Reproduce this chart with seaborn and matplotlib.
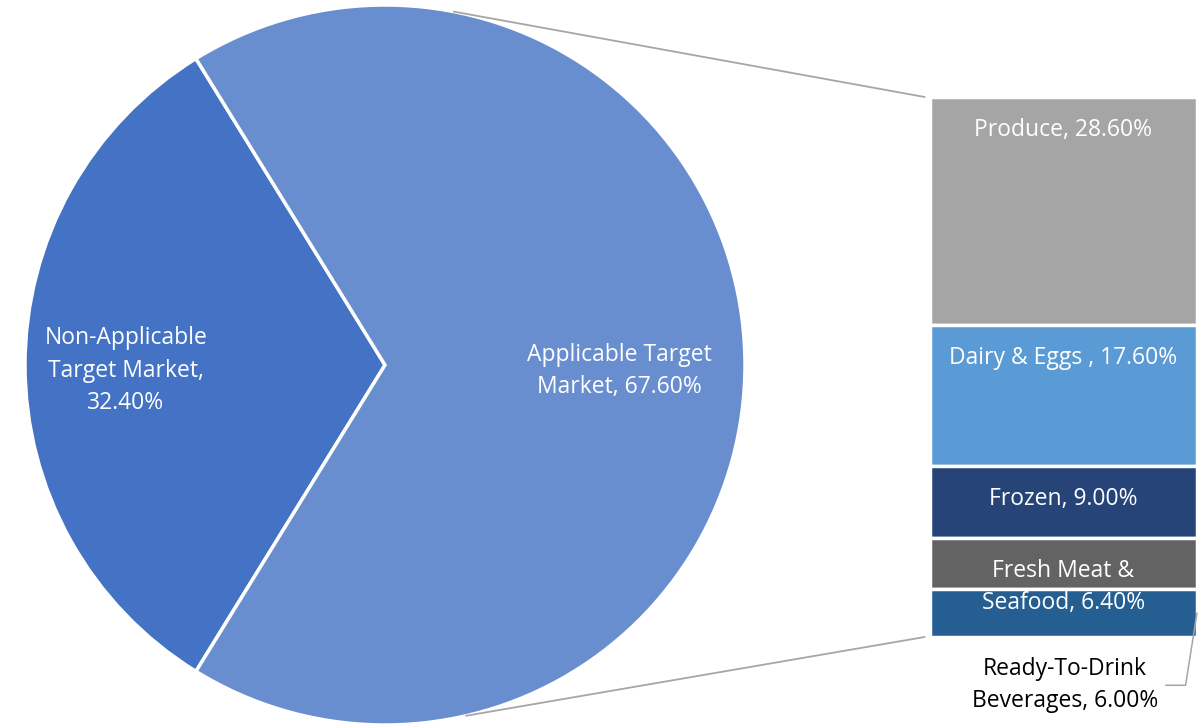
import numpy as np
import matplotlib.pyplot as plt
from matplotlib.patches import ConnectionPatch
import seaborn as sns

# main pie
pie_labels = ["Non-Applicable\nTarget Market,", "Applicable Target\nMarket,"]
pie_values = [32.4, 67.6]
pie_colors = ["#4472C4", "#698ED0"]

# breakdown of the applicable slice (top to bottom in the bar)
sub_labels = ["Produce,", "Dairy & Eggs ,", "Frozen,", "Fresh Meat &\nSeafood,", "Ready-To-Drink\nBeverages,"]
sub_values = [28.6, 17.6, 9.0, 6.4, 6.0]
sub_colors = ["#A5A5A5", "#5B9BD5", "#264478", "#636363", "#255E91"]

sns.set_theme(style="white")
plt.rcParams['font.family'] = ['Open Sans', 'DejaVu Sans']
FS = 16.5
LS = 1.45

W, H = 1200, 726
fig = plt.figure(figsize=(W / 100, H / 100), dpi=100)

# ---- pie ----
ax_pie = fig.add_axes([25 / W, 1 / H, 720 / W, 720 / H])
start = 180 - pie_values[0] * 1.8
wedges, _ = ax_pie.pie(pie_values, colors=pie_colors, startangle=start, counterclock=True,
                       wedgeprops=dict(edgecolor="white", linewidth=2.5))
ax_pie.set_xlim(-1, 1)
ax_pie.set_ylim(-1, 1)
ax_pie.axis("off")

label_r = [0.72, 0.65]
for w, lab, v, r in zip(wedges, pie_labels, pie_values, label_r):
    mid = np.deg2rad((w.theta1 + w.theta2) / 2)
    txt = f"{lab}\n{v:.2f}%" if "Non" in lab else f"{lab} {v:.2f}%"
    ax_pie.annotate(txt, xy=(r * np.cos(mid), r * np.sin(mid)), xytext=(0, -4), textcoords="offset points",
                    ha="center", va="center", color="white", fontsize=FS, linespacing=LS)

# ---- stacked bar ----
ax_bar = fig.add_axes([930 / W, (H - 637) / H, 267 / W, 540 / H])
total = sum(sub_values)
tops = total - np.cumsum([0] + sub_values[:-1])
for lab, v, c, t in zip(sub_labels, sub_values, sub_colors, tops):
    ax_bar.bar(0.5, v, width=1, bottom=t - v, color=c, edgecolor="white", linewidth=2.5)
ax_bar.set_xlim(0, 1)
ax_bar.set_ylim(0, total)
ax_bar.axis("off")

for lab, v, t in zip(sub_labels[:-1], sub_values[:-1], tops[:-1]):
    ax_bar.annotate(f"{lab} {v:.2f}%", xy=(0.5, t), xytext=(0, -15), textcoords="offset points",
                    ha="center", va="top", color="white", fontsize=FS, linespacing=LS)

# last slice label sits under the bar with a leader line
ax_bar.annotate(f"{sub_labels[-1]} {sub_values[-1]:.2f}%", xy=(1.0, sub_values[-1] / 2),
                xytext=(-95, -52), textcoords="offset points",
                ha="center", va="center", color="black", fontsize=FS, linespacing=LS,
                arrowprops=dict(arrowstyle="-", color="#A6A6A6", lw=1.1, relpos=(1, 0.5),
                                shrinkA=3, shrinkB=0,
                                connectionstyle="angle,angleA=0,angleB=81,rad=0"))

# connector lines from the pie to the bar
for ang, yb in [(79, total), (-77, 0)]:
    a = np.deg2rad(ang)
    con = ConnectionPatch(xyA=(np.cos(a), np.sin(a)), coordsA=ax_pie.transData,
                          xyB=(-0.02, yb), coordsB=ax_bar.transData,
                          color="#A6A6A6", lw=1.3)
    fig.add_artist(con)

fig.savefig("out.png", dpi=100)
